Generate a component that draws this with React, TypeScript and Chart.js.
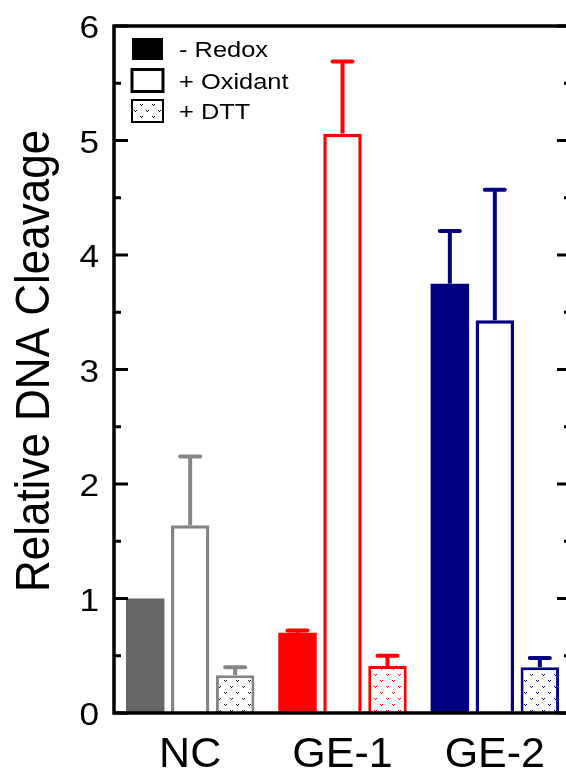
import React, { useEffect, useRef } from "react";
import { Chart, registerables } from "chart.js";

Chart.register(...registerables);

const categories = ["NC", "GE-1", "GE-2"];
const seriesLabels = ["- Redox", "+ Oxidant", "+ DTT"];
const yTitle = "Relative DNA Cleavage";
const redoxValues = [1.0, 0.7, 3.75];
const redoxErrTop = [null, 0.72, 4.21];
const oxidantValues = [1.64, 5.06, 3.43];
const oxidantErrTop = [2.24, 5.69, 4.57];
const dttValues = [0.33, 0.41, 0.4];
const dttErrTop = [0.4, 0.5, 0.48];
const yMin = 0;
const yMax = 6;
const yStep = 1;
const yMinorStep = 0.5;

const fillColors = ["#666666", "#ff0000", "#000080"];
const lineColors = ["#858585", "#ff0000", "#000080"];
const dotColors = ["#222222", "#ff0000", "#000080"];
const FONT = "'Liberation Sans', Arial, Helvetica, sans-serif";

function makePattern(dot: string): CanvasPattern | string {
  const c = document.createElement("canvas");
  c.width = 12;
  c.height = 12;
  const g = c.getContext("2d");
  if (!g) return "#ffffff";
  g.fillStyle = "#ffffff";
  g.fillRect(0, 0, 12, 12);
  g.fillStyle = dot;
  const v = (x: number, y: number) => {
    g.fillRect(x, y, 1, 1);
    g.fillRect(x + 2, y, 1, 1);
    g.fillRect(x + 1, y + 1, 1, 1);
  };
  v(2, 2);
  v(8, 8);
  const p = g.createPattern(c, "repeat");
  return p || "#ffffff";
}

function stretchedText(ctx: any, text: string, x: number, y: number, size: number, sx: number, align: string) {
  ctx.save();
  ctx.translate(x, y);
  ctx.scale(sx, 1);
  ctx.font = `${size}px ${FONT}`;
  ctx.fillStyle = "#000000";
  ctx.textAlign = align;
  ctx.textBaseline = "alphabetic";
  ctx.fillText(text, 0, 0);
  ctx.restore();
}

const framePlugin = {
  id: "frameAndErrors",
  afterDatasetsDraw(chart: any) {
    const ctx = chart.ctx;
    const y = chart.scales.y;
    chart.data.datasets.forEach((ds: any, di: number) => {
      const meta = chart.getDatasetMeta(di);
      meta.data.forEach((bar: any, i: number) => {
        const top = ds.errTop[i];
        if (top === null || top === undefined) return;
        const yTop = y.getPixelForValue(top);
        const yBar = y.getPixelForValue(ds.data[i]);
        ctx.save();
        ctx.strokeStyle = ds.errColor[i];
        ctx.lineWidth = 4;
        ctx.lineCap = "butt";
        ctx.beginPath();
        ctx.moveTo(bar.x, yBar);
        ctx.lineTo(bar.x, yTop);
        ctx.stroke();
        ctx.lineCap = "round";
        ctx.beginPath();
        ctx.moveTo(bar.x - 10, yTop);
        ctx.lineTo(bar.x + 10, yTop);
        ctx.stroke();
        ctx.restore();
      });
    });
  },
  afterDraw(chart: any) {
    const ctx = chart.ctx;
    const a = chart.chartArea;
    const y = chart.scales.y;
    const x = chart.scales.x;
    ctx.save();
    ctx.strokeStyle = "#000000";
    ctx.lineWidth = 3.5;
    ctx.lineCap = "square";
    ctx.strokeRect(a.left, a.top, a.right - a.left, a.bottom - a.top);
    // inward ticks + tick labels
    ctx.lineWidth = 3;
    ctx.lineCap = "butt";
    for (let v = yMin; v <= yMax + 1e-9; v += yMinorStep) {
      const major = Math.abs(v / yStep - Math.round(v / yStep)) < 1e-6;
      const len = major ? 14 : 7;
      const py = y.getPixelForValue(v);
      ctx.strokeStyle = "#000000";
      ctx.beginPath();
      ctx.moveTo(a.left, py);
      ctx.lineTo(a.left + len, py);
      ctx.moveTo(a.right, py);
      ctx.lineTo(a.right - len, py);
      ctx.stroke();
      if (major) {
        stretchedText(ctx, String(Math.round(v)), a.left - 15, py + 12, 32, 1.1, "right");
      }
    }
    // x labels
    chart.data.labels.forEach((lab: string, i: number) => {
      stretchedText(ctx, lab, x.getPixelForValue(i), 767, 43, 1.0, "center");
    });
    // y title
    ctx.save();
    ctx.translate(49, 361);
    ctx.rotate(-Math.PI / 2);
    ctx.scale(1, 1.08);
    ctx.font = `44px ${FONT}`;
    ctx.fillStyle = "#000000";
    ctx.textAlign = "center";
    ctx.textBaseline = "alphabetic";
    ctx.fillText(yTitle, 0, 0);
    ctx.restore();
    // legend
    const bx = a.left + 18;
    const bw = 31;
    const bh = 22;
    const rows = [49, 80.5, 111];
    const fills: any[] = ["#000000", "#ffffff", makePattern("#000000")];
    rows.forEach((cy, i) => {
      ctx.fillStyle = fills[i];
      ctx.fillRect(bx, cy - bh / 2, bw, bh);
      if (i > 0) {
        ctx.strokeStyle = "#000000";
        ctx.lineWidth = i === 1 ? 3 : 2;
        ctx.strokeRect(bx, cy - bh / 2, bw, bh);
      }
      stretchedText(ctx, seriesLabels[i], bx + 47, cy + 8, 22.5, 1.13, "left");
    });
    ctx.restore();
  },
};

export default function App() {
  const ref = useRef<HTMLCanvasElement | null>(null);
  useEffect(() => {
    const canvas = ref.current;
    if (!canvas) return;
    const dttPatterns = dotColors.map((c) => makePattern(c));
    const chart = new Chart(canvas, {
      type: "bar",
      data: {
        labels: categories,
        datasets: [
          {
            label: seriesLabels[0],
            data: redoxValues,
            backgroundColor: fillColors,
            borderColor: fillColors,
            borderWidth: 0,
            errTop: redoxErrTop,
            errColor: lineColors,
          } as any,
          {
            label: seriesLabels[1],
            data: oxidantValues,
            backgroundColor: "#ffffff",
            borderColor: lineColors,
            borderWidth: 3.5,
            borderSkipped: "start",
            errTop: oxidantErrTop,
            errColor: lineColors,
          } as any,
          {
            label: seriesLabels[2],
            data: dttValues,
            backgroundColor: dttPatterns,
            borderColor: lineColors,
            borderWidth: 3,
            borderSkipped: "start",
            errTop: dttErrTop,
            errColor: lineColors,
          } as any,
        ],
      },
      options: {
        responsive: false,
        animation: false,
        devicePixelRatio: 1,
        layout: { padding: { top: 26, right: 29, left: 0, bottom: 0 } },
        datasets: {
          bar: { categoryPercentage: 0.886, barPercentage: 0.855 },
        },
        plugins: { legend: { display: false }, tooltip: { enabled: false } },
        scales: {
          x: {
            grid: { display: false, drawTicks: false },
            border: { display: false },
            ticks: { display: false },
            afterFit: (s: any) => {
              s.height = 58;
            },
          },
          y: {
            min: yMin,
            max: yMax,
            grid: { display: false, drawTicks: false },
            border: { display: false },
            ticks: { display: false, stepSize: yStep },
            afterFit: (s: any) => {
              s.width = 114;
            },
          },
        },
      },
      plugins: [framePlugin],
    });
    return () => chart.destroy();
  }, []);
  return (
    <div
      style={{
        position: "fixed",
        left: 0,
        top: 0,
        width: 566,
        height: 771,
        overflow: "hidden",
        background: "#ffffff",
      }}
    >
      <canvas ref={ref} width={600} height={771} style={{ display: "block", width: 600, height: 771 }} />
    </div>
  );
}
